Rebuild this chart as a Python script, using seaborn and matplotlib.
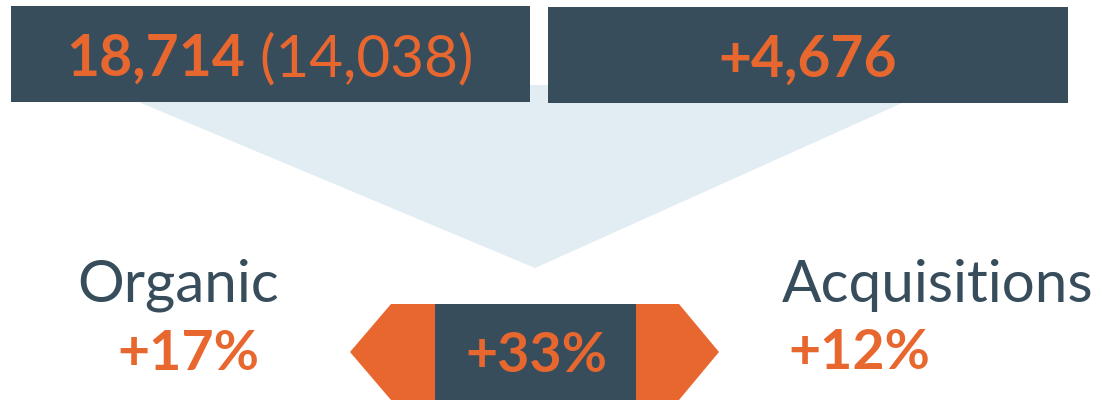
import matplotlib
matplotlib.use("Agg")
import matplotlib.pyplot as plt
from matplotlib.patches import Rectangle, Polygon
import seaborn as sns

# values shown in the graphic
header_values = ["18,714", "+4,676"]
prior_value = "(14,038)"
segments = ["Organic", "Acquisitions"]
segment_growth = ["+17%", "+12%"]
total_growth = "+33%"

DARK = "#374d5c"
ORANGE = "#e8672f"
LIGHT = "#e1ecf3"

sns.set_theme(style="white")
plt.rcParams['font.family'] = ['Lato', 'DejaVu Sans']

fig = plt.figure(figsize=(11.02, 4.0), dpi=100)
ax = fig.add_axes([0, 0, 1, 1])
ax.set_xlim(0, 1102)
ax.set_ylim(400, 0)
ax.axis("off")

# light funnel behind the header boxes
ax.add_patch(Polygon([(98, 85), (942, 85), (535, 268)], closed=True, color=LIGHT, lw=0))

# header boxes
ax.add_patch(Rectangle((11, 6), 519, 96, color=DARK, lw=0))
ax.add_patch(Rectangle((548, 7), 520, 96, color=DARK, lw=0))

# left header: bold current + regular prior, centred together
t1 = ax.text(0, 76, header_values[0], color=ORANGE, fontsize=41, fontweight="bold",
             ha="left", va="baseline")
t2 = ax.text(0, 76, " " + prior_value, color=ORANGE, fontsize=42,
             ha="left", va="baseline")
fig.canvas.draw()
r = fig.canvas.get_renderer()
w1 = t1.get_window_extent(r).width
w2 = t2.get_window_extent(r).width
start = 270 - (w1 + w2) / 2
t1.set_x(start)
t2.set_x(start + w1)

ax.text(808, 77, header_values[1], color=ORANGE, fontsize=41, fontweight="bold",
        ha="center", va="baseline")

# bottom arrow shape
ax.add_patch(Polygon([(350, 352), (391, 304), (679, 304), (719, 352), (679, 400), (391, 400)],
                     closed=True, color=ORANGE, lw=0))
ax.add_patch(Rectangle((435, 304), 201, 96, color=DARK, lw=0))
ax.text(536, 372, total_growth, color=ORANGE, fontsize=40, fontweight="bold",
        ha="center", va="baseline")

# segment labels
ax.text(178, 302, segments[0], color=DARK, fontsize=42, ha="center", va="baseline")
ax.text(188, 370, segment_growth[0], color=ORANGE, fontsize=40, fontweight="bold",
        ha="center", va="baseline")
ax.text(782, 302, segments[1], color=DARK, fontsize=42, ha="left", va="baseline")
ax.text(788, 369, segment_growth[1], color=ORANGE, fontsize=40, fontweight="bold",
        ha="left", va="baseline")

fig.savefig("out.png", dpi=100)
